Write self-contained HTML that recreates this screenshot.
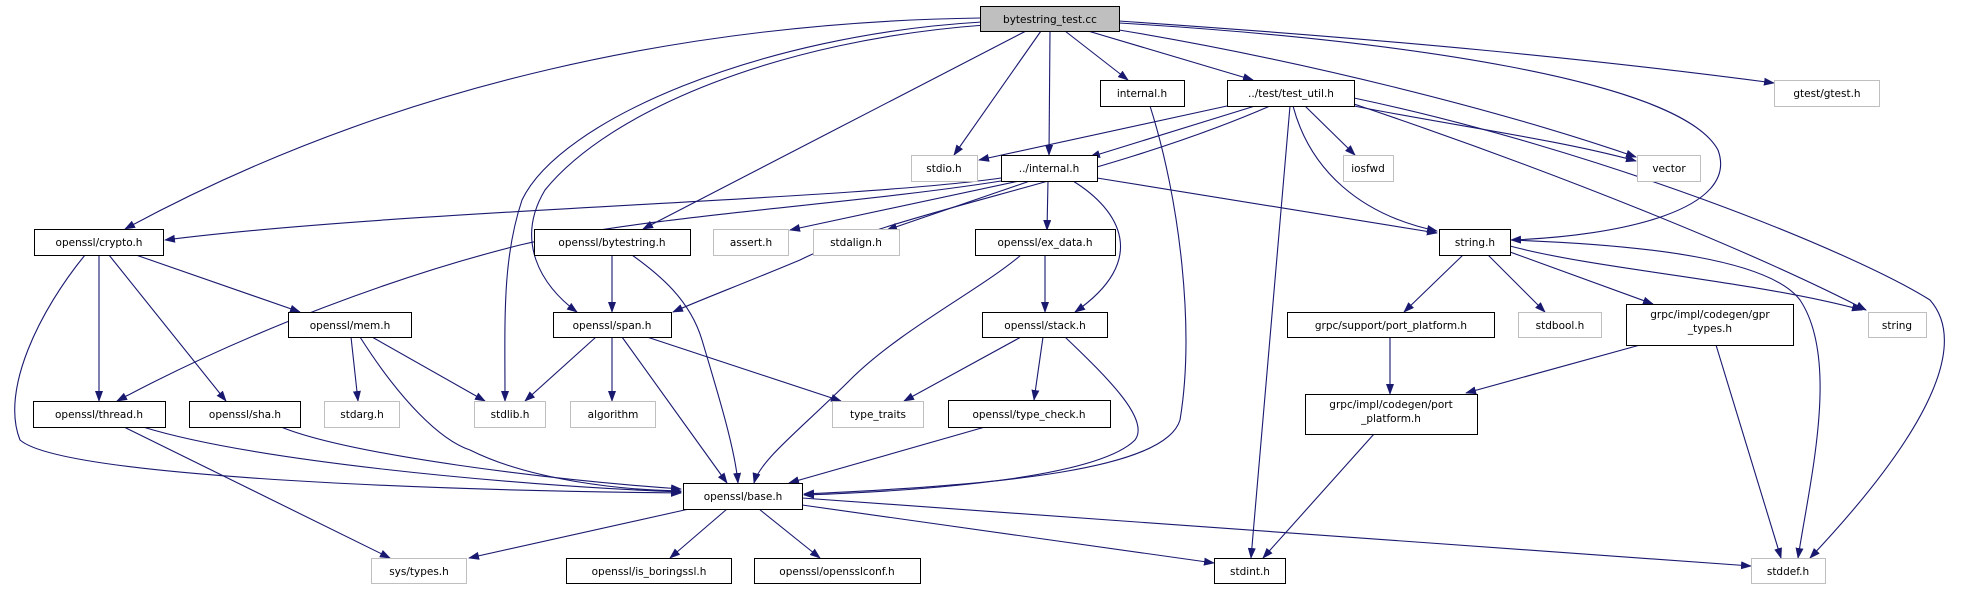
<!DOCTYPE html>
<html><head><meta charset="utf-8"><style>
html,body{margin:0;padding:0;background:#fff;}
svg{display:block;}
text{font-family:"DejaVu Sans","Liberation Sans",sans-serif;font-size:10.5px;fill:#000;text-anchor:middle;}
.e{fill:none;stroke:#191970;stroke-width:1.1;marker-end:url(#a);}
.n{fill:#fff;stroke:#000;stroke-width:1;}
.g{fill:#fff;stroke:#bfbfbf;stroke-width:1;}
</style></head><body>
<svg width="1961" height="589" viewBox="0 0 1961 589" xmlns="http://www.w3.org/2000/svg">
<defs><marker id="a" markerWidth="11" markerHeight="8" refX="10" refY="4" orient="auto" markerUnits="userSpaceOnUse"><path d="M0,0 L11,4 L0,8z" fill="#191970"/></marker></defs>

<!-- edges from bytestring_test.cc -->
<path class="e" d="M980,18 C700,22 400,80 125,229"/>
<path class="e" d="M1026,31 L643,229"/>
<path class="e" d="M985,25 C780,40 610,110 545,190 C515,240 540,285 577,312"/>
<path class="e" d="M982,22 C760,35 560,120 522,200 C502,260 505,320 505,401"/>
<path class="e" d="M1041,31 L954,155"/>
<path class="e" d="M1050,31 L1049,155"/>
<path class="e" d="M1065,31 L1128,80"/>
<path class="e" d="M1088,31 L1253,80"/>
<path class="e" d="M1119,30 C1300,60 1500,110 1636,157"/>
<path class="e" d="M1119,23 C1400,40 1680,80 1718,150 C1740,210 1620,236 1511,240"/>
<path class="e" d="M1119,21 C1400,40 1600,60 1774,83"/>

<!-- test_util.h -->
<path class="e" d="M1227,106 L979,160"/>
<path class="e" d="M1255,106 L1090,157"/>
<path class="e" d="M1270,106 C1100,180 900,210 800,260 C740,285 700,300 673,312"/>
<path class="e" d="M1290,106 L1251,558"/>
<path class="e" d="M1293,106 C1310,170 1360,215 1437,231"/>
<path class="e" d="M1305,106 L1355,155"/>
<path class="e" d="M1354,106 C1450,125 1560,140 1636,161"/>
<path class="e" d="M1354,104 C1550,170 1750,250 1866,310"/>
<path class="e" d="M1354,98 C1600,150 1850,250 1930,300 C1965,340 1940,420 1810,558"/>

<!-- internal.h -->
<path class="e" d="M1150,106 C1180,200 1195,330 1180,420 C1165,470 1000,485 804,494"/>

<!-- ../internal.h -->
<path class="e" d="M1001,178 C850,200 400,210 165,240"/>
<path class="e" d="M1001,181 C850,205 650,215 520,245 C400,275 250,330 117,401"/>
<path class="e" d="M1019,181 L790,230"/>
<path class="e" d="M1030,181 L887,230"/>
<path class="e" d="M1048,181 L1047,230"/>
<path class="e" d="M1073,181 C1120,210 1150,260 1075,312"/>
<path class="e" d="M1097,178 L1437,233"/>

<!-- crypto.h -->
<path class="e" d="M136,255 L300,312"/>
<path class="e" d="M99,255 L99,401"/>
<path class="e" d="M109,255 L226,401"/>
<path class="e" d="M85,255 C40,310 0,390 20,440 C60,475 400,490 681,493"/>

<!-- bytestring.h -->
<path class="e" d="M612,255 L612,312"/>
<path class="e" d="M632,255 C660,275 690,300 702,340 C720,400 735,450 738,483"/>

<!-- mem.h -->
<path class="e" d="M351,337 L358,401"/>
<path class="e" d="M372,337 L485,401"/>
<path class="e" d="M360,337 C400,400 440,440 470,450 C530,480 620,490 681,491"/>

<!-- span.h -->
<path class="e" d="M596,337 L525,401"/>
<path class="e" d="M612,337 L612,401"/>
<path class="e" d="M647,337 L841,401"/>
<path class="e" d="M622,337 L727,483"/>

<!-- ex_data.h -->
<path class="e" d="M1045,255 L1045,312"/>
<path class="e" d="M1021,255 C980,290 900,330 850,380 C800,430 760,460 754,483"/>

<!-- stack.h -->
<path class="e" d="M1021,337 L904,401"/>
<path class="e" d="M1043,337 L1034,400"/>
<path class="e" d="M1065,337 C1110,380 1150,420 1135,440 C1100,475 950,490 804,495"/>

<!-- type_check.h -->
<path class="e" d="M985,427 L789,483"/>

<!-- thread.h, sha.h -->
<path class="e" d="M143,427 C250,460 500,485 681,492"/>
<path class="e" d="M124,427 L390,558"/>
<path class="e" d="M281,427 C350,455 550,480 681,489"/>

<!-- base.h -->
<path class="e" d="M689,509 L469,558"/>
<path class="e" d="M727,509 L670,558"/>
<path class="e" d="M759,509 L820,558"/>
<path class="e" d="M802,505 L1214,563"/>
<path class="e" d="M802,498 L1751,566"/>

<!-- string.h -->
<path class="e" d="M1463,255 L1404,312"/>
<path class="e" d="M1488,255 L1545,312"/>
<path class="e" d="M1510,252 L1653,304"/>
<path class="e" d="M1510,246 C1600,270 1750,280 1862,310"/>
<path class="e" d="M1510,240 C1650,245 1770,260 1800,300 C1840,360 1810,480 1798,558"/>

<!-- grpc -->
<path class="e" d="M1640,345 L1466,393"/>
<path class="e" d="M1716,345 L1781,558"/>
<path class="e" d="M1390,337 L1390,394"/>
<path class="e" d="M1374,434 L1263,558"/>

<!-- nodes -->
<rect x="980.5" y="6.5" width="139" height="25" fill="#bfbfbf" stroke="#000"/><text x="1050" y="23">bytestring_test.cc</text>
<rect class="n" x="1100.5" y="80.5" width="84" height="26"/><text x="1142" y="97">internal.h</text>
<rect class="n" x="1227.5" y="80.5" width="127" height="26"/><text x="1291" y="97">../test/test_util.h</text>
<rect class="g" x="1774.5" y="80.5" width="105" height="26"/><text x="1827" y="97">gtest/gtest.h</text>
<rect class="g" x="911.5" y="155.5" width="66" height="26"/><text x="944" y="172">stdio.h</text>
<rect class="n" x="1001.5" y="155.5" width="96" height="26"/><text x="1049" y="172">../internal.h</text>
<rect class="g" x="1343.5" y="155.5" width="50" height="26"/><text x="1368" y="172">iosfwd</text>
<rect class="g" x="1637.5" y="155.5" width="63" height="26"/><text x="1669" y="172">vector</text>
<rect class="n" x="34.5" y="229.5" width="129" height="26"/><text x="99" y="246">openssl/crypto.h</text>
<rect class="n" x="534.5" y="229.5" width="156" height="26"/><text x="612" y="246">openssl/bytestring.h</text>
<rect class="g" x="713.5" y="229.5" width="75" height="26"/><text x="751" y="246">assert.h</text>
<rect class="g" x="813.5" y="229.5" width="86" height="26"/><text x="856" y="246">stdalign.h</text>
<rect class="n" x="975.5" y="229.5" width="140" height="26"/><text x="1045" y="246">openssl/ex_data.h</text>
<rect class="n" x="1439.5" y="229.5" width="71" height="26"/><text x="1475" y="246">string.h</text>
<rect class="n" x="288.5" y="312.5" width="123" height="25"/><text x="350" y="329">openssl/mem.h</text>
<rect class="n" x="553.5" y="312.5" width="118" height="25"/><text x="612" y="329">openssl/span.h</text>
<rect class="n" x="982.5" y="312.5" width="125" height="25"/><text x="1045" y="329">openssl/stack.h</text>
<rect class="n" x="1287.5" y="312.5" width="207" height="25"/><text x="1391" y="329">grpc/support/port_platform.h</text>
<rect class="g" x="1518.5" y="312.5" width="83" height="25"/><text x="1560" y="329">stdbool.h</text>
<rect class="n" x="1626.5" y="304.5" width="167" height="41"/><text x="1710" y="318">grpc/impl/codegen/gpr</text><text x="1710" y="332">_types.h</text>
<rect class="g" x="1868.5" y="312.5" width="58" height="25"/><text x="1897" y="329">string</text>
<rect class="n" x="33.5" y="401.5" width="132" height="26"/><text x="99" y="418">openssl/thread.h</text>
<rect class="n" x="189.5" y="401.5" width="111" height="26"/><text x="245" y="418">openssl/sha.h</text>
<rect class="g" x="324.5" y="401.5" width="75" height="26"/><text x="362" y="418">stdarg.h</text>
<rect class="g" x="474.5" y="401.5" width="71" height="26"/><text x="510" y="418">stdlib.h</text>
<rect class="g" x="570.5" y="401.5" width="85" height="26"/><text x="613" y="418">algorithm</text>
<rect class="g" x="832.5" y="401.5" width="91" height="26"/><text x="878" y="418">type_traits</text>
<rect class="n" x="948.5" y="400.5" width="162" height="27"/><text x="1029" y="418">openssl/type_check.h</text>
<rect class="n" x="1305.5" y="394.5" width="172" height="40"/><text x="1391" y="408">grpc/impl/codegen/port</text><text x="1391" y="422">_platform.h</text>
<rect class="n" x="683.5" y="483.5" width="119" height="26"/><text x="743" y="500">openssl/base.h</text>
<rect class="g" x="371.5" y="558.5" width="95" height="25"/><text x="419" y="575">sys/types.h</text>
<rect class="n" x="566.5" y="558.5" width="165" height="25"/><text x="649" y="575">openssl/is_boringssl.h</text>
<rect class="n" x="754.5" y="558.5" width="166" height="25"/><text x="837" y="575">openssl/opensslconf.h</text>
<rect class="n" x="1214.5" y="558.5" width="71" height="25"/><text x="1250" y="575">stdint.h</text>
<rect class="g" x="1751.5" y="558.5" width="74" height="25"/><text x="1788" y="575">stddef.h</text>
</svg>
</body></html>
